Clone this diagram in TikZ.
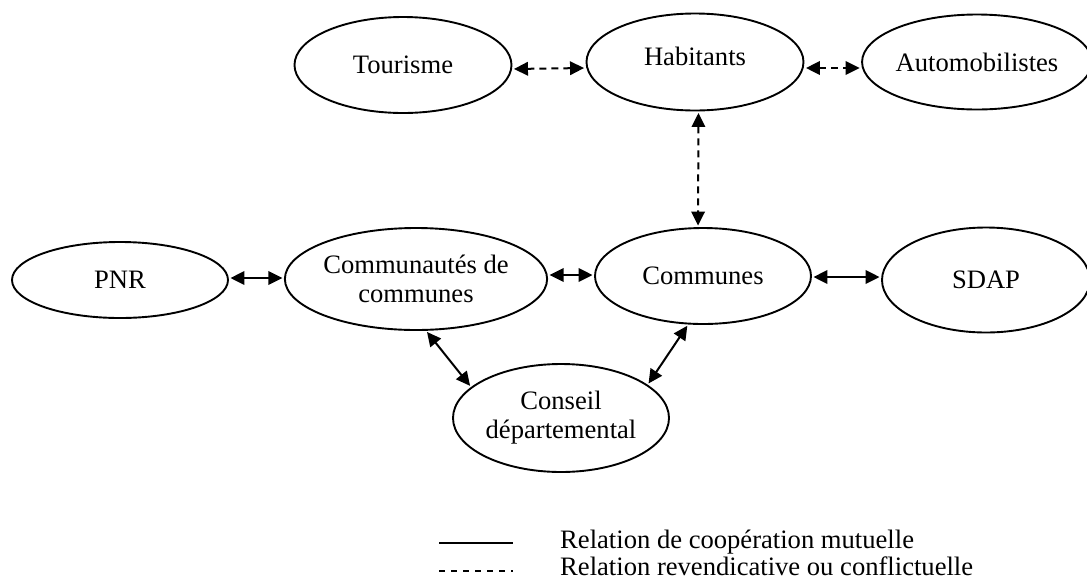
\documentclass[tikz,border=0pt]{standalone}
\usepackage{fontspec}
\setmainfont{Liberation Serif}
\usetikzlibrary{shapes.geometric,arrows.meta}
\begin{document}
\begin{tikzpicture}[x=1pt,y=-1pt,
  ent/.style={draw,ellipse,line width=1.9pt,inner sep=0pt,align=center,
    font=\fontsize{26.6}{29}\selectfont},
  txt/.style={font=\fontsize{26.6}{29}\selectfont,inner sep=0pt},
  rel/.style={line width=2pt,{Triangle[length=14pt,width=13.5pt]}-{Triangle[length=14pt,width=13.5pt]},shorten <=1.5pt,shorten >=1.5pt},
  coop/.style={rel},
  conf/.style={rel,dash pattern=on 7pt off 5pt},
  legline/.style={line width=1.6pt}]
\useasboundingbox (0,0) rectangle (1087,579);
\fill[white] (0,0) rectangle (1087,579);
% nodes
\node[ent,minimum width=217pt,minimum height=96pt] (tour) at (403,65) {Tourisme};
\node[ent,minimum width=217pt,minimum height=97pt,label={[txt,yshift=6pt]center:Habitants}] (hab) at (695,62) {};
\node[ent,minimum width=216pt,minimum height=95pt] (auto) at (977,62) {Automobilistes};
\node[ent,minimum width=216pt,minimum height=76pt] (pnr) at (120,280) {PNR};
\node[ent,minimum width=217pt,minimum height=102pt] (cc) at (416,279) {Communautés de\\communes};
\node[ent,minimum width=216pt,minimum height=96pt] (com) at (703,276) {Communes};
\node[ent,minimum width=208pt,minimum height=105pt] (sdap) at (986,280) {SDAP};
\node[ent,minimum width=216pt,minimum height=108pt] (cd) at (561,418) {Conseil\\départemental};
% connectors
\draw[conf] ([yshift=-4pt]tour.east) -- ([yshift=-6pt]hab.west);
\draw[conf] ([yshift=-6pt]hab.east) -- ([yshift=-6pt]auto.west);
\draw[conf] ([xshift=3.5pt]hab.south) -- ([xshift=-5pt]com.north);
\draw[coop] ([yshift=2pt]pnr.east) -- ([yshift=1pt]cc.west);
\draw[coop] ([yshift=4pt]cc.east) -- ([yshift=1pt]com.west);
\draw[coop] ([yshift=-1pt]com.east) -- ([yshift=3pt]sdap.west);
\draw[coop] (cc.-79) -- (cd.161);
\draw[coop] (com.-107) -- (cd.21);
% legend
\coordinate (l1a) at (439,543);
\coordinate (l1b) at (513,543);
\coordinate (l2a) at (439,571);
\coordinate (l2b) at (513,571);
\draw[legline] (l1a) -- (l1b);
\draw[legline,dash pattern=on 6pt off 6pt] (l2a) -- (l2b);
\node[txt,anchor=base west] (t1) at (560,548) {Relation de coopération mutuelle};
\node[txt,anchor=base west] (t2) at (560,575) {Relation revendicative ou conflictuelle};
\end{tikzpicture}
\end{document}
